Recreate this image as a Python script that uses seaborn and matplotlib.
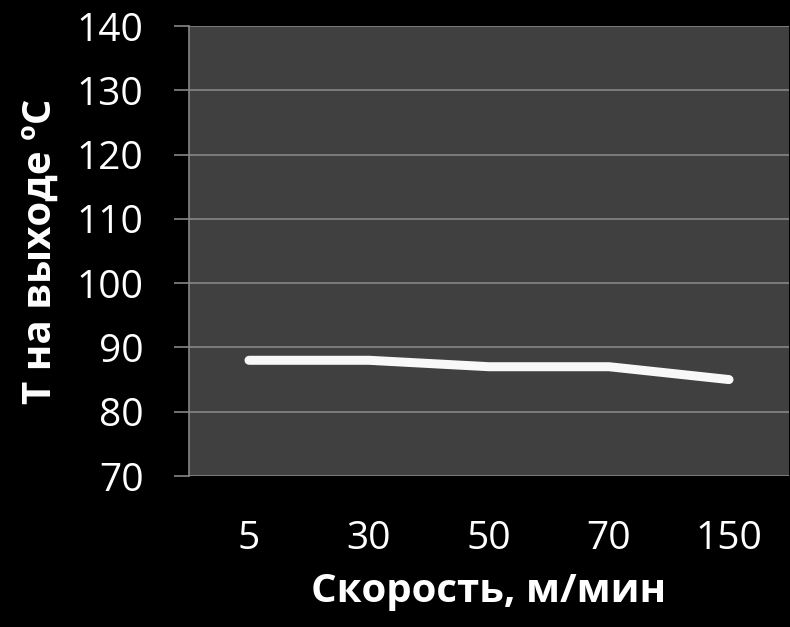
import matplotlib
matplotlib.use("Agg")
import matplotlib.pyplot as plt
import seaborn as sns
import pandas as pd

categories = ["5", "30", "50", "70", "150"]
temps = [88, 88, 87, 87, 85]
y_ticks = [70, 80, 90, 100, 110, 120, 130, 140]
x_title = "Скорость, м/мин"
y_title = "Т на выходе ºC"

sns.set_theme(style="dark")
plt.rcParams['font.family'] = ['Open Sans', 'DejaVu Sans']

df = pd.DataFrame({"cat": categories, "temp": temps})

fig = plt.figure(figsize=(7.9, 6.27), dpi=100, facecolor="black")
ax = fig.add_axes([189/790, 1 - 476/627, 600/790, 450/627])
ax.set_facecolor("#404040")

sns.lineplot(data=df, x="cat", y="temp", ax=ax, color="#f8f8f8",
             linewidth=6.5, solid_capstyle="round", solid_joinstyle="round",
             sort=False)

ax.set_xlim(-0.5, 4.5)
ax.set_ylim(70, 140)
ax.set_yticks(y_ticks)
ax.set_yticklabels([str(v) for v in y_ticks])

ax.grid(axis="y", color="#868686", linewidth=1.2)
ax.grid(axis="x", visible=False)

for side in ["top", "right", "bottom"]:
    ax.spines[side].set_visible(False)
ax.spines["left"].set_visible(True)
ax.spines["left"].set_color("#868686")
ax.spines["left"].set_linewidth(1.2)

ax.tick_params(axis="y", colors="white", labelsize=28, length=10.8, width=1.2,
               pad=22, left=True)
ax.tick_params(axis="y", color="#868686")
ax.tick_params(axis="x", colors="white", labelsize=28, length=0, pad=32)

ax.set_xlabel(x_title, color="white", fontsize=29, fontweight="bold", labelpad=10)
ax.set_ylabel(y_title, color="white", fontsize=29, fontweight="bold", labelpad=12)

fig.savefig("out.png", dpi=100, facecolor="black")
